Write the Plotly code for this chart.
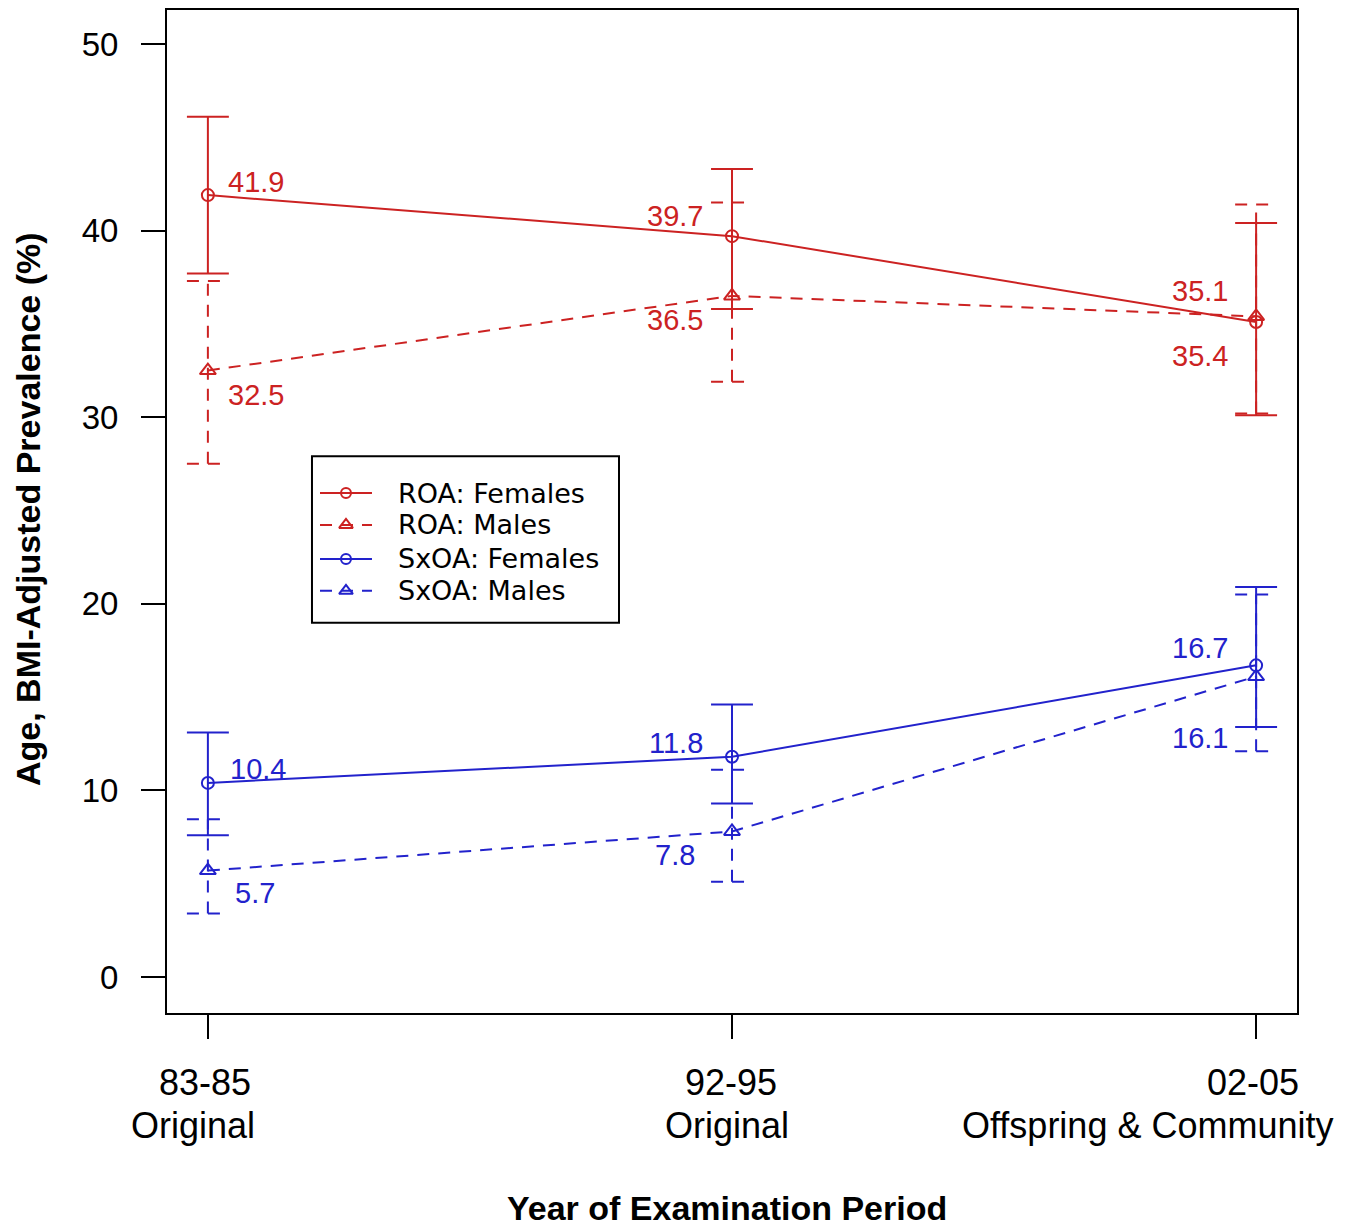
import plotly.graph_objects as go

# ---------------- data ----------------
periods = ["83-85", "92-95", "02-05"]
cohorts = ["Original", "Original", "Offspring & Community"]
xpos = [0, 1, 2]

roa_f = [41.9, 39.7, 35.1]
roa_f_lo = [37.7, 35.8, 30.1]
roa_f_hi = [46.1, 43.3, 40.4]

roa_m = [32.5, 36.5, 35.4]
roa_m_lo = [27.5, 31.9, 30.2]
roa_m_hi = [37.3, 41.5, 41.4]

sx_f = [10.4, 11.8, 16.7]
sx_f_lo = [7.6, 9.3, 13.4]
sx_f_hi = [13.1, 14.6, 20.9]

sx_m = [5.7, 7.8, 16.1]
sx_m_lo = [3.4, 5.1, 12.1]
sx_m_hi = [8.45, 11.1, 20.5]

yticks = [0, 10, 20, 30, 40, 50]

RED = "#CC2222"
BLUE = "#2222CC"
DASH = "12px,9px"
FONT = "Liberation Sans, Arial, sans-serif"
CAP = 0.04

fig = go.Figure()


def errbars(lo, hi, color, dash):
    xs, ys = [], []
    for x, l, h in zip(xpos, lo, hi):
        xs += [x, x, None, x - CAP, x + CAP, None, x - CAP, x + CAP, None]
        ys += [l, h, None, h, h, None, l, l, None]
    fig.add_trace(go.Scatter(x=xs, y=ys, mode="lines", showlegend=False,
                             hoverinfo="skip",
                             line=dict(color=color, width=2, dash=dash)))


errbars(roa_m_lo, roa_m_hi, RED, DASH)
errbars(roa_f_lo, roa_f_hi, RED, "solid")
errbars(sx_m_lo, sx_m_hi, BLUE, DASH)
errbars(sx_f_lo, sx_f_hi, BLUE, "solid")

series = [
    ("ROA: Females", roa_f, RED, "solid", "circle-open", 12),
    ("ROA: Males", roa_m, RED, DASH, "triangle-up-open", 14),
    ("SxOA: Females", sx_f, BLUE, "solid", "circle-open", 12),
    ("SxOA: Males", sx_m, BLUE, DASH, "triangle-up-open", 14),
]
for name, vals, col, dash, sym, sz in series:
    fig.add_trace(go.Scatter(
        x=xpos, y=vals, name=name, mode="lines+markers", showlegend=False,
        line=dict(color=col, width=2, dash=dash),
        marker=dict(symbol=sym, size=sz, color=col, line=dict(color=col, width=2)),
    ))

# ---------------- manual legend (on an overlay 0..1 axis pair) ----------------
LEG_X0, LEG_X1, LEG_Y0, LEG_Y1 = 0.1283, 0.400, 0.389, 0.555
leg_rows = [0.5184, 0.4866, 0.4527, 0.4209]
sample_x = [0.1354, 0.1814]
fig.add_shape(type="rect", xref="paper", yref="paper",
              x0=LEG_X0, x1=LEG_X1, y0=LEG_Y0, y1=LEG_Y1,
              line=dict(color="black", width=2), fillcolor="white", layer="below")
for (name, vals, col, dash, sym, sz), ry in zip(series, leg_rows):
    fig.add_trace(go.Scatter(x=sample_x, y=[ry, ry], xaxis="x2", yaxis="y2",
                             mode="lines", showlegend=False, hoverinfo="skip",
                             line=dict(color=col, width=2, dash=dash)))
    fig.add_trace(go.Scatter(x=[sum(sample_x) / 2], y=[ry], xaxis="x2", yaxis="y2",
                             mode="markers", showlegend=False, hoverinfo="skip",
                             marker=dict(symbol=sym, size=sz - 2, color=col,
                                         line=dict(color=col, width=2))))
    fig.add_annotation(x=0.2027, y=ry, xref="paper", yref="paper", text=name,
                       showarrow=False, xanchor="left", yanchor="middle",
                       font=dict(family="DejaVu Sans, sans-serif", size=27,
                                 color="black"))

# data value labels
label_specs = [
    (roa_f, RED, [("left", 18, 13), ("right", -27, 20), ("right", -26, 31)]),
    (roa_m, RED, [("left", 18, -24), ("right", -27, -24), ("right", -26, -40)]),
    (sx_f, BLUE, [("left", 20, 14), ("right", -27, 14), ("right", -26, 17)]),
    (sx_m, BLUE, [("left", 25, -22), ("right", -35, -24), ("right", -26, -61)]),
]
for vals, col, offs in label_specs:
    for x, v, (xa, xs, ys) in zip(xpos, vals, offs):
        fig.add_annotation(x=x, y=v, xref="x", yref="y", text=f"{v:.1f}",
                           showarrow=False, xanchor=xa, yanchor="middle",
                           xshift=xs, yshift=ys,
                           font=dict(family=FONT, size=29, color=col))

# x tick labels (two lines)
line1_shift = [-3, -1, -3]
line2_shift = [-15, -5, -109]
for x, p, c, s1, s2 in zip(xpos, periods, cohorts, line1_shift, line2_shift):
    fig.add_annotation(x=x, y=0, xref="x", yref="paper", text=p, showarrow=False,
                       xanchor="center", yanchor="middle", xshift=s1, yshift=-69,
                       font=dict(family=FONT, size=36, color="black"))
    fig.add_annotation(x=x, y=0, xref="x", yref="paper", text=c, showarrow=False,
                       xanchor="center", yanchor="middle", xshift=s2, yshift=-112,
                       font=dict(family=FONT, size=36, color="black"))

# axis titles
fig.add_annotation(x=0.4956, y=-0.194, xref="paper", yref="paper",
                   text="<b>Year of Examination Period</b>", showarrow=False,
                   xanchor="center", yanchor="middle",
                   font=dict(family=FONT, size=34, color="black"))
fig.add_annotation(x=-0.123, y=0.5025, xref="paper", yref="paper",
                   text="<b>Age, BMI-Adjusted Prevalence (%)</b>", showarrow=False,
                   textangle=-90, xanchor="center", yanchor="middle",
                   font=dict(family=FONT, size=34, color="black"))

fig.update_layout(
    width=1351, height=1226,
    margin=dict(l=167, r=54, t=8, b=213),
    plot_bgcolor="white", paper_bgcolor="white",
    font=dict(family=FONT, color="black"),
    showlegend=False,
    xaxis=dict(range=[-0.078, 2.078], tickvals=xpos, ticktext=["", "", ""],
               showgrid=False, zeroline=False, showline=True, linecolor="black",
               linewidth=2, mirror=True, ticks="outside", ticklen=24,
               tickwidth=2, tickcolor="black"),
    yaxis=dict(range=[-1.93, 51.82], tickvals=yticks,
               ticktext=[str(t) for t in yticks],
               showgrid=False, zeroline=False, showline=True, linecolor="black",
               linewidth=2, mirror=True, ticks="outside", ticklen=24,
               tickwidth=2, tickcolor="black", ticklabelstandoff=16,
               tickfont=dict(family=FONT, size=33, color="black")),
    xaxis2=dict(overlaying="x", range=[0, 1], visible=False, fixedrange=True),
    yaxis2=dict(overlaying="y", range=[0, 1], visible=False, fixedrange=True),
)

fig.write_html("out.html")
